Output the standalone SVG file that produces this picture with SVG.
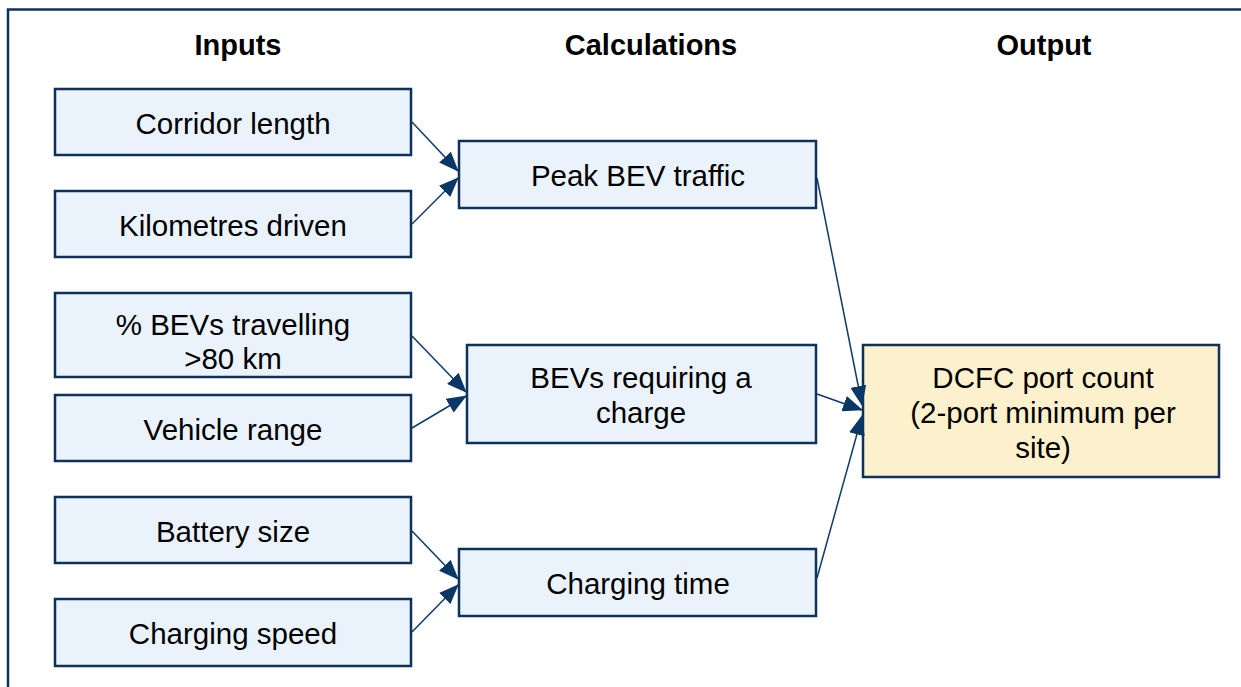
<svg xmlns="http://www.w3.org/2000/svg" width="1241" height="687" viewBox="0 0 1241 687">
<defs>
<style>
.box{fill:#eaf3fb;stroke:#0e3259;stroke-width:2.5}
.out{fill:#fdf0cc;stroke:#0e3259;stroke-width:2.5}
.t{font-family:"Liberation Sans",Arial,sans-serif;font-size:29.5px;fill:#000;text-anchor:middle}
.h{font-family:"Liberation Sans",Arial,sans-serif;font-size:29px;font-weight:bold;fill:#000;text-anchor:middle}
.c{stroke:#0e3a68;stroke-width:1.5;fill:none;marker-end:url(#ah)}
</style>
<marker id="ah" viewBox="0 0 20 16" refX="19" refY="8" markerWidth="20" markerHeight="16" markerUnits="userSpaceOnUse" orient="auto">
<path d="M0,0 L20,8 L0,16 Z" fill="#0b3766"/>
</marker>
</defs>
<rect x="8" y="9.5" width="1250" height="700" fill="#fff" stroke="#0e3259" stroke-width="2.5"/>
<g id="headers">
<text class="h" x="238" y="55">Inputs</text>
<text class="h" x="651" y="55">Calculations</text>
<text class="h" x="1044" y="55">Output</text>
</g>
<g id="n-corridor"><rect class="box" x="55" y="89" width="356" height="66"/><text class="t" x="233" y="134">Corridor length</text></g>
<g id="n-km"><rect class="box" x="55" y="191" width="356" height="66"/><text class="t" x="233" y="236">Kilometres driven</text></g>
<g id="n-pct"><rect class="box" x="55" y="293" width="356" height="84"/><text class="t" x="233" y="335">% BEVs travelling</text><text class="t" x="233" y="369">&gt;80 km</text></g>
<g id="n-range"><rect class="box" x="55" y="395" width="356" height="66"/><text class="t" x="233" y="440">Vehicle range</text></g>
<g id="n-battery"><rect class="box" x="55" y="497" width="356" height="66"/><text class="t" x="233" y="542">Battery size</text></g>
<g id="n-speed"><rect class="box" x="55" y="599" width="356" height="67"/><text class="t" x="233" y="644">Charging speed</text></g>
<g id="n-peak"><rect class="box" x="459" y="141" width="357" height="67"/><text class="t" x="638" y="186">Peak BEV traffic</text></g>
<g id="n-require"><rect class="box" x="467" y="345" width="349" height="98"/><text class="t" x="641" y="388">BEVs requiring a</text><text class="t" x="641" y="423">charge</text></g>
<g id="n-time"><rect class="box" x="459" y="549" width="357" height="67"/><text class="t" x="638" y="594">Charging time</text></g>
<g id="n-output"><rect class="out" x="863" y="345" width="356" height="132"/><text class="t" x="1043" y="388">DCFC port count</text><text class="t" x="1043" y="423">(2-port minimum per</text><text class="t" x="1043" y="458">site)</text></g>
<g id="connectors">
<line class="c" x1="412" y1="122" x2="458" y2="171"/>
<line class="c" x1="412" y1="224" x2="458" y2="178"/>
<line class="c" x1="412" y1="336" x2="466" y2="392"/>
<line class="c" x1="412" y1="428" x2="466" y2="396"/>
<line class="c" x1="412" y1="531" x2="458" y2="579"/>
<line class="c" x1="412" y1="632" x2="458" y2="585"/>
<line class="c" x1="817" y1="178" x2="862" y2="405"/>
<line class="c" x1="817" y1="394" x2="862" y2="410"/>
<line class="c" x1="817" y1="578" x2="862" y2="416"/>
</g>
</svg>
